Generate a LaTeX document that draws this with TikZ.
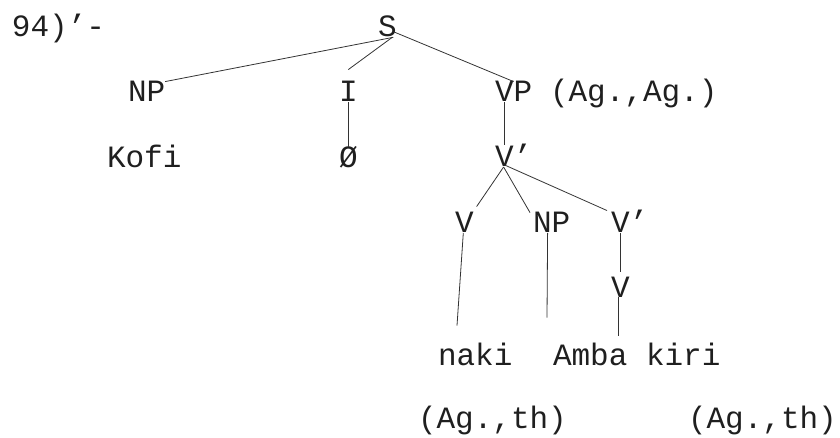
\documentclass[tikz,border=0pt]{standalone}
\usepackage{fontspec}
\newfontfamily\tw{Liberation Mono}
\begin{document}
\begin{tikzpicture}[x=1pt,y=-1pt,
  lab/.style={anchor=base west,inner sep=0pt,outer sep=0pt,font=\tw\fontsize{31}{33}\selectfont,text=black!88},
  br/.style={draw=black!80,line width=0.8pt}]
\useasboundingbox (0,0) rectangle (840,438);
% labels
\node[lab] (num) at (12,37) {94)’-};
\node[lab] (S) at (378,37) {S};
\node[lab] (NP) at (128,102) {NP};
\node[lab] (I) at (339,102) {I};
\node[lab] (VP) at (495,102) {VP};
\node[lab] (args) at (550,102) {(Ag.,Ag.)};
\node[lab] (kofi) at (107,168) {Kofi};
\node[lab] (zero) at (339,168) {Ø};
\node[lab] (Vbar) at (495,167) {V’};
\node[lab] (V3) at (455,233) {V};
\node[lab] (NP3) at (533,233) {NP};
\node[lab] (Vb3) at (611,233) {V’};
\node[lab] (V4) at (611,297) {V};
\node[lab] (naki) at (438,365) {naki};
\node[lab] (amba) at (553,365) {Amba kiri};
\node[lab] (th1) at (418,428) {(Ag.,th)};
\node[lab] (th2) at (688,428) {(Ag.,th)};
% branches
\draw[br] ([xshift=6pt]S.south) -- (NP.north east);
\draw[br] ([xshift=5pt]S.south) -- ([yshift=12pt]I.north);
\draw[br] ([shift={(-3pt,-5pt)}]S.east) -- (VP.north);
\draw[br] (I.south) -- (zero.north);
\draw[br] ([xshift=-9.3pt]VP.south) -- ([xshift=-9.3pt]Vbar.north);
\draw[br] ([xshift=-10pt]Vbar.south) -- ([shift={(3pt,6pt)}]V3.north east);
\draw[br] ([xshift=-10pt]Vbar.south) -- ([xshift=-3pt]NP3.north west);
\draw[br] ([shift={(-9pt,2pt)}]Vbar.south) -- ([xshift=-4pt]Vb3.north west);
\draw[br] ([xshift=-1pt]V3.south) -- ([shift={(19pt,17pt)}]naki.north west);
\draw[br] ([xshift=-4pt]NP3.south) -- ([shift={(-6pt,25pt)}]amba.north west);
\draw[br] ([xshift=9pt]Vb3.south west) -- ([shift={(9pt,5pt)}]V4.north west);
\draw[br] ([xshift=7pt]V4.south west) -- ([shift={(65pt,7pt)}]amba.north west);
\end{tikzpicture}
\end{document}
